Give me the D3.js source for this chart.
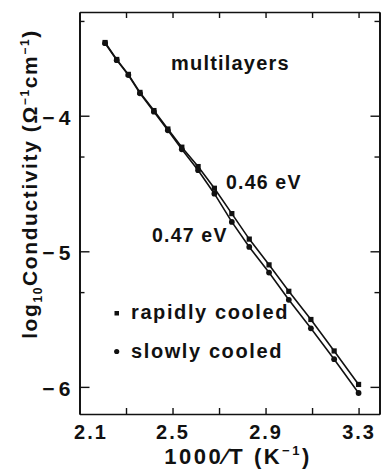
<!DOCTYPE html>
<html>
<head>
<meta charset="UTF-8">
<title>Conductivity vs 1000/T</title>
<style>
body { margin: 0; background: #fff; }
svg { display: block; }
text { font-family: "Liberation Sans", Arial, sans-serif; font-weight: bold; fill: #111; }
</style>
</head>
<body>
<script src="https://cdn.jsdelivr.net/npm/d3@7"></script>
<script>
// 1000/T (K^-1) of the measured temperatures
var invT = [2.21, 2.26, 2.31, 2.36, 2.42, 2.48, 2.54, 2.61, 2.68, 2.755, 2.83, 2.915, 3.00, 3.095, 3.195, 3.30];
// log10 conductivity, rapidly cooled (0.46 eV)
var rapid = [-3.46, -3.585, -3.695, -3.828, -3.962, -4.098, -4.232, -4.375, -4.535, -4.722, -4.910, -5.100, -5.295, -5.503, -5.735, -5.982];
// log10 conductivity, slowly cooled (0.47 eV)
var slow = [-3.465, -3.59, -3.70, -3.835, -3.970, -4.108, -4.248, -4.402, -4.575, -4.783, -4.968, -5.157, -5.358, -5.568, -5.796, -6.045];

var yMajor = [-6, -5, -4];
var yMinor = [-5.301, -4.301, -3.301];
var xTicks = [2.3, 2.5, 2.7, 2.9, 3.1, 3.3];
var xLabels = [2.1, 2.5, 2.9, 3.3];

var width = 381, height = 474;
var svg = d3.select("body").append("svg")
  .attr("width", width)
  .attr("height", height);

var x = d3.scaleLinear().domain([2.1, 3.39]).range([79.5, 379.5]);
var y = d3.scaleLinear().domain([-6.2, -3.235]).range([414, 12]);

var axisStyle = function(g) {
  g.selectAll("path").attr("stroke", "#111").attr("stroke-width", 1.7);
  g.selectAll("line").attr("stroke", "#111").attr("stroke-width", 1.4);
};

// left axis: major ticks with labels, minor ticks without
svg.append("g")
  .attr("transform", "translate(" + x(2.1) + ",0)")
  .call(d3.axisLeft(y).tickValues(yMajor).tickSizeInner(-10).tickSizeOuter(0).tickPadding(9)
    .tickFormat(function(d){ return "\u2212\u2009" + Math.abs(d); }))
  .call(axisStyle)
  .selectAll("text")
    .attr("dy", "0.4em")
    .style("font-size", "21px");
svg.append("g")
  .attr("transform", "translate(" + x(2.1) + ",0)")
  .call(d3.axisLeft(y).tickValues(yMinor).tickSizeInner(-5).tickSizeOuter(0).tickFormat(""))
  .call(axisStyle);

// right axis
svg.append("g")
  .attr("transform", "translate(" + x(3.39) + ",0)")
  .call(d3.axisRight(y).tickValues(yMajor).tickSizeInner(-9).tickSizeOuter(0).tickFormat(""))
  .call(axisStyle);
svg.append("g")
  .attr("transform", "translate(" + x(3.39) + ",0)")
  .call(d3.axisRight(y).tickValues(yMinor).tickSizeInner(-5).tickSizeOuter(0).tickFormat(""))
  .call(axisStyle);

// bottom axis
svg.append("g")
  .attr("transform", "translate(0," + y(-6.2) + ")")
  .call(d3.axisBottom(x).tickValues(xTicks).tickSizeInner(-6).tickSizeOuter(0).tickFormat(""))
  .call(axisStyle);
svg.append("g")
  .attr("transform", "translate(0," + y(-6.2) + ")")
  .call(d3.axisBottom(x).tickValues(xLabels).tickSize(0).tickPadding(11).tickFormat(d3.format(".1f")))
  .call(function(g){ g.select(".domain").remove(); })
  .selectAll("text")
    .style("font-size", "20px")
    .style("letter-spacing", "2px")
    .attr("dx", function(d){ return d === 2.1 ? 11 : 0; });

// top axis
svg.append("g")
  .attr("transform", "translate(0," + y(-3.235) + ")")
  .call(d3.axisTop(x).tickValues(xTicks).tickSizeInner(-6).tickSizeOuter(0).tickFormat(""))
  .call(axisStyle);

// data lines
var line = d3.line()
  .x(function(d, i){ return x(invT[i]); })
  .y(function(d){ return y(d); });

[rapid, slow].forEach(function(s){
  svg.append("path")
    .attr("d", line(s))
    .attr("fill", "none")
    .attr("stroke", "#111")
    .attr("stroke-width", 1.6);
});

// rapidly cooled: squares
svg.selectAll(".sq").data(rapid).enter().append("rect")
  .attr("x", function(d, i){ return x(invT[i]) - 2.6; })
  .attr("y", function(d){ return y(d) - 2.6; })
  .attr("width", 5.2).attr("height", 5.2)
  .attr("fill", "#111");
// slowly cooled: dots
svg.selectAll(".dot").data(slow).enter().append("circle")
  .attr("cx", function(d, i){ return x(invT[i]); })
  .attr("cy", function(d){ return y(d); })
  .attr("r", 2.9)
  .attr("fill", "#111");

// annotations
var label = function(tx, ty, str, size, spacing) {
  return svg.append("text")
    .attr("x", tx).attr("y", ty)
    .style("font-size", size + "px")
    .style("letter-spacing", spacing + "px")
    .text(str);
};
label(171, 70, "multilayers", 20, 1.2);
label(226, 189, "0.46 eV", 19.5, 1.2);
label(152, 242, "0.47 eV", 19.5, 1.2);

// legend
svg.append("rect").attr("x", 114.5).attr("y", 311).attr("width", 4.5).attr("height", 4.5).attr("fill", "#111");
label(131, 319, "rapidly cooled", 20, 1.6);
svg.append("circle").attr("cx", 116.7).attr("cy", 351.5).attr("r", 2.6).attr("fill", "#111");
label(131, 358, "slowly cooled", 20, 1.6);

// axis titles
var xt = svg.append("text")
  .attr("x", 238).attr("y", 464)
  .attr("text-anchor", "middle")
  .style("font-size", "22px")
  .style("letter-spacing", "2.5px");
xt.append("tspan").text("1000\u2215T (K");
xt.append("tspan").attr("dy", -9).style("font-size", "13px").text("\u22121");
xt.append("tspan").attr("dy", 9).text(")");

var yt = svg.append("text")
  .attr("transform", "translate(37,184) rotate(-90)")
  .attr("text-anchor", "middle")
  .style("font-size", "21px")
  .style("letter-spacing", "1.6px");
yt.append("tspan").text("log");
yt.append("tspan").attr("dy", 5).style("font-size", "12px").text("10");
yt.append("tspan").attr("dy", -5).text("Conductivity (\u03A9");
yt.append("tspan").attr("dy", -8).style("font-size", "12px").text("\u22121");
yt.append("tspan").attr("dy", 8).text("cm");
yt.append("tspan").attr("dy", -8).style("font-size", "12px").text("\u22121");
yt.append("tspan").attr("dy", 8).text(")");
</script>
</body>
</html>
